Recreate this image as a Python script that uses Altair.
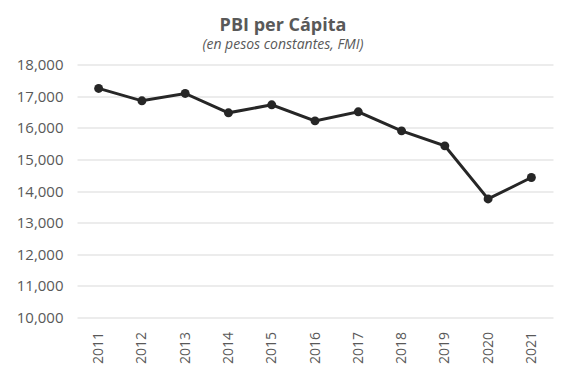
import altair as alt
import pandas as pd

years = ["2011", "2012", "2013", "2014", "2015", "2016", "2017", "2018", "2019", "2020", "2021"]
values = [17244, 16851, 17085, 16472, 16725, 16218, 16503, 15902, 15427, 13750, 14427]
y_ticks = [10000, 11000, 12000, 13000, 14000, 15000, 16000, 17000, 18000]

df = pd.DataFrame({"year": years, "value": values})

FONT = "Open Sans"
GRAY = "#595959"

base = alt.Chart(df).encode(
    x=alt.X("year:N", sort=years, title=None,
            scale=alt.Scale(paddingInner=0, paddingOuter=0),
            axis=alt.Axis(labelAngle=-90, labelAlign="right", labelBaseline="middle",
                          labelPadding=14, ticks=False, domain=False, grid=False,
                          labelFont=FONT, labelFontSize=14, labelColor=GRAY)),
    y=alt.Y("value:Q", title=None,
            scale=alt.Scale(domain=[10000, 18000], nice=False, zero=False),
            axis=alt.Axis(values=y_ticks,
                          format=",.0f", ticks=False, domain=False, labelPadding=14,
                          labelFont=FONT, labelFontSize=15, labelColor=GRAY,
                          gridColor="#d9d9d9", gridWidth=1)),
)

line = base.mark_line(color="#262626", strokeWidth=3)
pts = base.mark_point(filled=True, color="#262626", size=80, opacity=1)

chart = (line + pts).properties(
    width=476, height=253,
    view=alt.ViewBackground(stroke="transparent", strokeWidth=0),
    autosize=alt.AutoSizeParams(type="none"),
    padding={"left": 69, "top": 56.5, "right": 6, "bottom": 54},
    title=alt.TitleParams(
        text="PBI per Cápita",
        subtitle="(en pesos constantes, FMI)",
        font=FONT, fontSize=18, fontWeight="bold", color=GRAY,
        subtitleFont=FONT, subtitleFontSize=14, subtitleFontStyle="italic",
        subtitleColor=GRAY, subtitlePadding=3,
        anchor="middle", dx=-32, offset=6,
    ),
).configure_view(stroke="transparent", strokeWidth=0).configure(background="white")

chart.save("out.html", embed_options={"renderer": "svg", "actions": False})
